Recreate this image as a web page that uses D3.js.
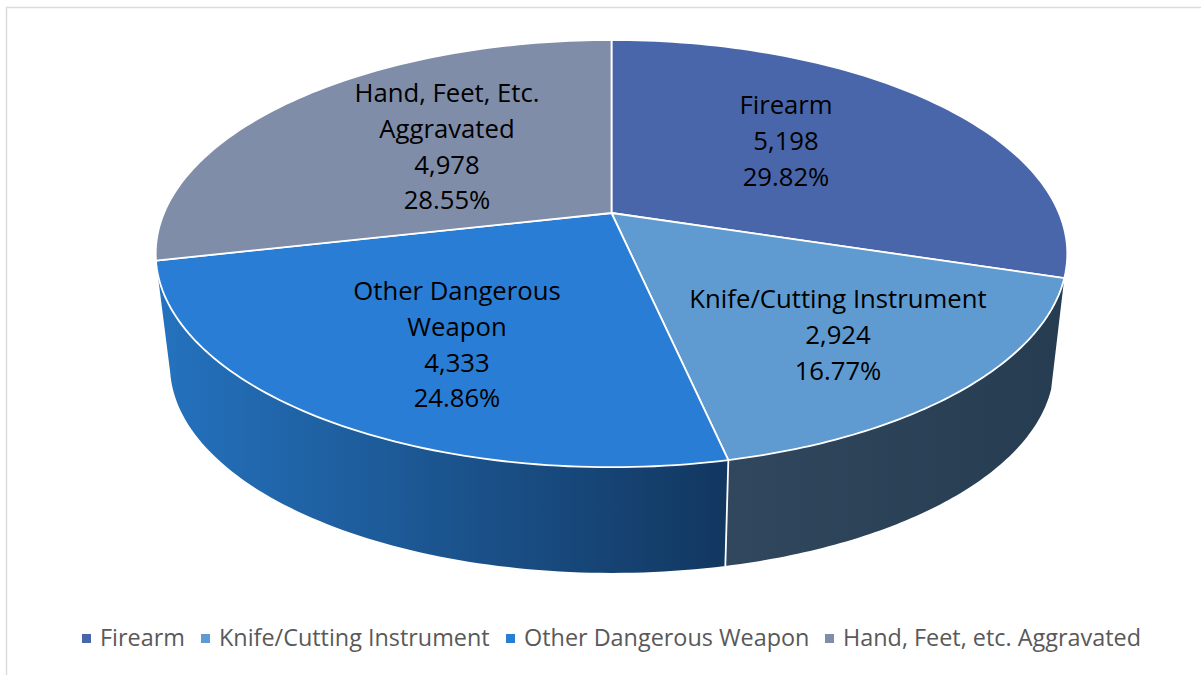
<!DOCTYPE html>
<html>
<head>
<meta charset="utf-8">
<script src="https://cdn.jsdelivr.net/npm/d3@7"></script>
<style>
html, body { margin: 0; padding: 0; background: #fff; }
svg { display: block; }
text { font-family: "Open Sans", sans-serif; }
</style>
</head>
<body>
<div id="chart"></div>
<script>
var categories = ["Firearm", "Knife/Cutting Instrument", "Other Dangerous Weapon", "Hand, Feet, etc. Aggravated"];
var values = [5198, 2924, 4333, 4978];
var percents = ["29.82%", "16.77%", "24.86%", "28.55%"];
var valueLabels = ["5,198", "2,924", "4,333", "4,978"];
var sliceLabels = [["Firearm"], ["Knife/Cutting Instrument"], ["Other Dangerous", "Weapon"], ["Hand, Feet, Etc.", "Aggravated"]];
var colors = ["#4966aa", "#5f9bd1", "#2a7dd5", "#7f8da9"];

var width = 1201, height = 675;
var svg = d3.select("#chart").append("svg").attr("width", width).attr("height", height);

// frame, only top and left show in the picture
svg.append("path").attr("d", "M6.5,675V7.5H1201").attr("fill", "none").attr("stroke", "#dcdcdc").attr("stroke-width", 1.5);

// pie is tilted with perspective, so project the unit circle instead of using d3.arc
var k = 0.19;
function topRim(a, r) {
    var u = Math.sin(a) * r, v = -Math.cos(a) * r, d = 1 - k * v;
    return [611.5 + 447.5 * u / d, 213 + 205.9 * v / d];
}
function bottomRim(a) {
    var u = Math.sin(a), v = -Math.cos(a), d = 1 - k * v;
    return [612 + 434 * u / d, 326 + 200 * v / d];
}
function rim(fn, a0, a1) {
    return d3.range(0, 81).map(function (i) { return fn(a0 + (a1 - a0) * i / 80, 1); });
}
var line = d3.line();

var arcs = d3.pie().sort(null).value(function (d) { return d; })(values);

// side walls, knife and other dangerous weapon only
var defs = svg.append("defs");
var wallGrads = [
    {i: 1, id: "wall1", x1: 728, x2: 1064, stops: ["#30475d", "#263c51"]},
    {i: 2, id: "wall2", x1: 158, x2: 728, stops: ["#2472be", "#123760"]}
];
wallGrads.forEach(function (g) {
    var lg = defs.append("linearGradient").attr("id", g.id).attr("gradientUnits", "userSpaceOnUse")
        .attr("x1", g.x1).attr("x2", g.x2).attr("y1", 0).attr("y2", 0);
    lg.append("stop").attr("offset", 0).attr("stop-color", g.stops[0]);
    lg.append("stop").attr("offset", 1).attr("stop-color", g.stops[1]);
    var a = arcs[g.i];
    var pts = rim(topRim, a.startAngle, a.endAngle).concat(rim(bottomRim, a.endAngle, a.startAngle));
    svg.append("path").attr("d", line(pts) + "Z").attr("fill", "url(#" + g.id + ")");
});
// divider between the two walls
var knifeEnd = arcs[1].endAngle;
svg.append("path").attr("d", line([topRim(knifeEnd, 1), bottomRim(knifeEnd)]))
    .attr("stroke", "#fff").attr("stroke-width", 1.8).attr("fill", "none");

// top face
arcs.forEach(function (a, i) {
    var pts = [topRim(0, 0)].concat(rim(topRim, a.startAngle, a.endAngle));
    svg.append("path").attr("d", line(pts) + "Z").attr("fill", colors[i])
        .attr("stroke", "#fff").attr("stroke-width", 1.8).attr("stroke-linejoin", "round");
});

// data labels
var labelX = [786, 838, 457, 447];
var labelY = [105, 299, 291, 93];
sliceLabels.forEach(function (lines, i) {
    var rows = lines.concat([valueLabels[i], percents[i]]);
    var t = svg.append("text").attr("text-anchor", "middle").attr("font-size", 25.7).attr("fill", "#000");
    rows.forEach(function (r, j) {
        t.append("tspan").attr("x", labelX[i]).attr("y", labelY[i] + j * 35.8).attr("dy", "0.35em").text(r);
    });
});

// legend
var legendX = [82, 201, 506, 825];
var legend = svg.append("g");
categories.forEach(function (c, i) {
    legend.append("rect").attr("x", legendX[i]).attr("y", 634).attr("width", 9).attr("height", 9).attr("fill", colors[i]);
    legend.append("text").attr("x", legendX[i] + 18).attr("y", 646).attr("font-size", 23.4)
        .attr("fill", "#595959").text(c);
});
</script>
</body>
</html>
